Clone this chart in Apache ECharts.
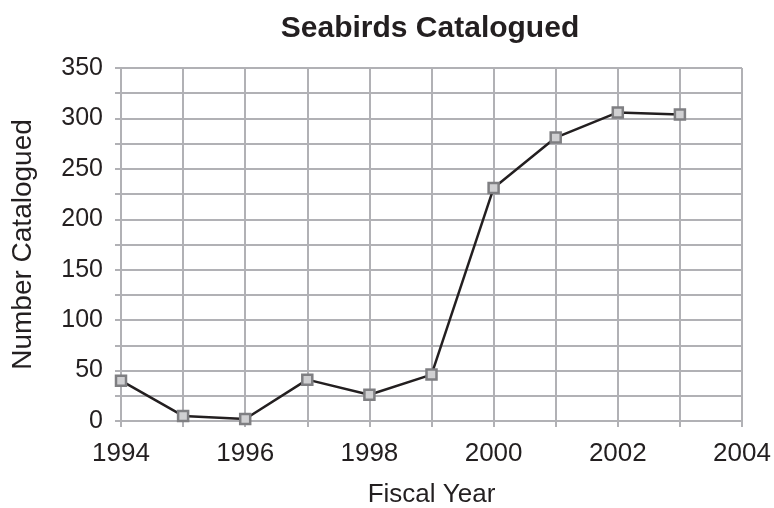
<!DOCTYPE html>
<html>
<head>
<meta charset="utf-8">
<script src="https://cdn.jsdelivr.net/npm/echarts@6/dist/echarts.min.js"></script>
<style>
  html, body { margin: 0; padding: 0; background: #fff; }
  #chart { width: 774px; height: 508px; }
</style>
</head>
<body>
<div id="chart"></div>
<script>
// data
var years = [1994, 1995, 1996, 1997, 1998, 1999, 2000, 2001, 2002, 2003];
var catalogued = [40, 5, 2, 41, 26, 46, 231, 281, 306, 304];

var gridColor = "#b1b1b5";
var textColor = "#231f20";
var font = "'Liberation Sans', Arial, sans-serif";

var myChart = echarts.init(document.getElementById("chart"));
myChart.setOption({
  animation: false,
  title: {
    text: "Seabirds Catalogued",
    left: 425,
    top: 9,
    textAlign: "center",
    textStyle: { fontFamily: font, fontSize: 30, fontWeight: "bold", color: textColor }
  },
  grid: { left: 121, right: 32, top: 68, bottom: 87, containLabel: false, outerBoundsMode: "none" },
  xAxis: {
    type: "value",
    min: 1994,
    max: 2004,
    interval: 1,
    name: "Fiscal Year",
    nameLocation: "middle",
    nameGap: 61,
    nameMoveOverlap: false,
    nameTextStyle: { fontFamily: font, fontSize: 26, color: textColor },
    axisLine: { show: true, lineStyle: { color: gridColor, width: 2 } },
    axisTick: { show: true, length: 6, lineStyle: { color: gridColor, width: 2 } },
    splitLine: { show: true, lineStyle: { color: gridColor, width: 2 } },
    axisLabel: {
      fontFamily: font, fontSize: 26, color: textColor, margin: 20,
      formatter: function (v) { return v % 2 === 0 ? String(v) : ""; }
    }
  },
  yAxis: {
    type: "value",
    min: 0,
    max: 350,
    interval: 25,
    name: "Number Catalogued",
    nameLocation: "middle",
    nameGap: 84,
    nameMoveOverlap: false,
    nameTextStyle: { fontFamily: font, fontSize: 28, color: textColor },
    axisLine: { show: true, lineStyle: { color: gridColor, width: 2 } },
    axisTick: { show: true, length: 6, lineStyle: { color: gridColor, width: 2 } },
    splitLine: { show: true, lineStyle: { color: gridColor, width: 2 } },
    axisLabel: {
      fontFamily: font, fontSize: 25, color: textColor, margin: 18,
      formatter: function (v) { return v % 50 === 0 ? String(v) : ""; }
    }
  },
  series: [
    {
      type: "line",
      data: years.map(function (y, i) { return [y, catalogued[i]]; }),
      symbol: "rect",
      symbolSize: 10,
      lineStyle: { color: textColor, width: 2.5 },
      itemStyle: { color: "#d0d0d2", borderColor: "#7f7f82", borderWidth: 2.5 }
    }
  ]
});
</script>
</body>
</html>
